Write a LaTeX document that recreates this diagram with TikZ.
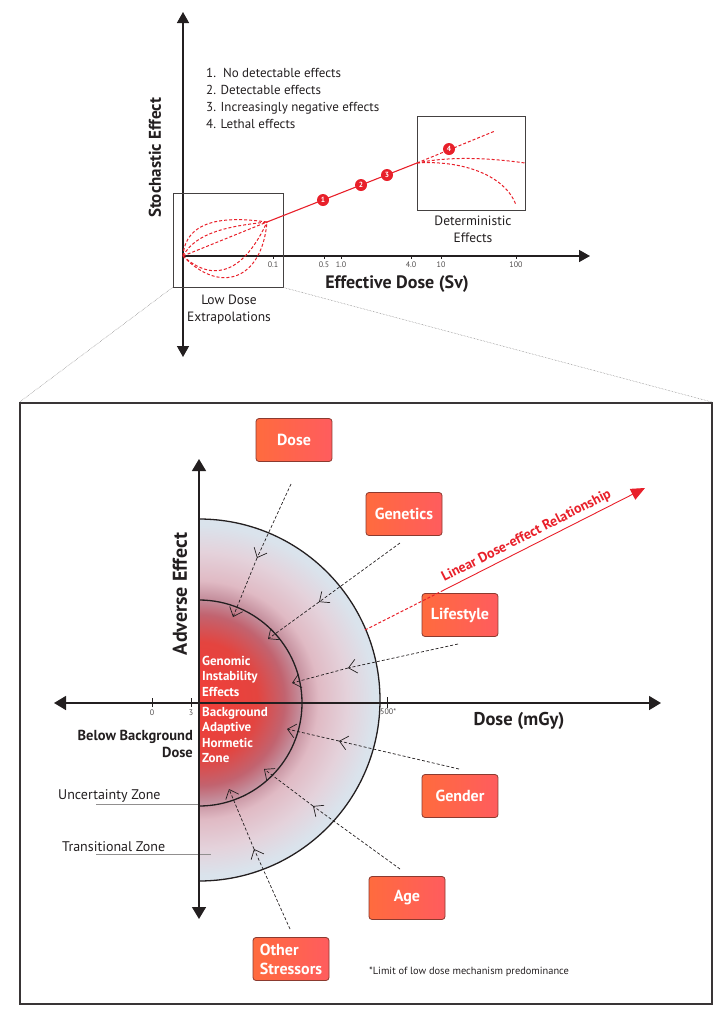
\documentclass[tikz,border=0pt]{standalone}
\usepackage{fontspec}
\setmainfont{PT Sans}
\usetikzlibrary{arrows.meta}
\definecolor{ink}{HTML}{231F20}
\definecolor{redc}{HTML}{E8202A}
\definecolor{boxL}{HTML}{FF6B3E}
\definecolor{boxR}{HTML}{FF5C5E}
\definecolor{boxB}{HTML}{8B3A2F}
\definecolor{zr0}{HTML}{F23E38}
\definecolor{zr1}{HTML}{E4443F}
\definecolor{zr2}{HTML}{C2636F}
\definecolor{zr3}{HTML}{C48E9C}
\definecolor{zr4}{HTML}{E0BAC4}
\definecolor{zr5}{HTML}{E4D2DB}
\definecolor{zr6}{HTML}{DAE3EC}
\pgfdeclareradialshading{zones}{\pgfpoint{0bp}{0bp}}{color(0bp)=(zr0); color(8bp)=(zr1); color(11.8bp)=(zr2); color(14bp)=(zr3); color(16.5bp)=(zr4); color(20.5bp)=(zr5); color(24.2bp)=(zr6); color(50bp)=(zr6)}
\begin{document}
\begin{tikzpicture}[x=1bp,y=-1bp,
  every node/.style={text=ink},
  axisline/.style={line width=1.5bp, draw=ink},
  tip/.style={-{Triangle[length=11bp,width=12bp]}},
  bitip/.style={{Triangle[length=11bp,width=12bp]}-{Triangle[length=11bp,width=12bp]}},
  frame/.style={draw=ink!85, line width=1bp, minimum width=#1, inner sep=0pt},
  reddash/.style={draw=redc, line width=1bp, dash pattern=on 3bp off 2bp},
  redsolid/.style={draw=redc, line width=1.1bp},
  num/.style={circle, fill=redc, text=white, inner sep=0pt, minimum size=12bp, font=\bfseries\fontsize{7.5bp}{8bp}\selectfont},
  tick/.style={draw=ink, line width=0.6bp},
  ticklbl/.style={font=\fontsize{8bp}{9bp}\selectfont, text=ink!80},
  factor/.style={draw=boxB, line width=0.8bp, rounded corners=3bp, left color=boxL, right color=boxR, text=white, font=\bfseries\fontsize{16bp}{18bp}\selectfont, minimum width=76bp, minimum height=43bp, inner sep=0pt, align=center},
  factorarr/.style={draw=ink, line width=0.7bp, dash pattern=on 3bp off 2bp, -{Straight Barb[length=8bp,width=14bp,line width=0.7bp]}},
  ring/.style={draw=ink, line width=1.3bp},
  zonetxt/.style={text=white, font=\bfseries\fontsize{13bp}{15.3bp}\selectfont, align=left, inner sep=0pt},
  guide/.style={draw=ink!50, line width=0.6bp}
]
\useasboundingbox (0,0) rectangle (724,1018);

% ================= TOP GRAPH =================
\coordinate (tO) at (183,256);
\coordinate (tP) at (267,222);
\coordinate (tD) at (417,163);
\coordinate (tE) at (495,131);
\draw[axisline,bitip] (183,357) -- (183,12);
\draw[axisline,tip] (tO) -- (590,256);
\node[rotate=90, font=\bfseries\fontsize{17bp}{19bp}\selectfont] (stoch) at (155,158) {Stochastic Effect};
\node[anchor=north west, align=left, inner sep=0pt, font=\fontsize{13bp}{17bp}\selectfont] (list) at (206,68)
  {1.\ \ No detectable effects\\2. Detectable effects\\3. Increasingly negative effects\\4. Lethal effects};

\node[frame=110bp, minimum height=94bp] (ldbox) at (228,240) {};
\node[frame=108bp, minimum height=94bp] (detbox) at (471,163) {};
\node[align=center, font=\fontsize{13.5bp}{17bp}\selectfont] (ldlbl) at (229,310) {Low Dose\\Extrapolations};
\node[align=center, font=\fontsize{13.5bp}{17bp}\selectfont] (detlbl) at (473,229) {Deterministic\\Effects};
\node[font=\bfseries\fontsize{18bp}{20bp}\selectfont] (effdose) at (397,284) {Effective Dose (Sv)};

% ticks
\foreach \xx/\lab in {273/0.1, 324/0.5, 341/1.0, 411/4.0, 441/10, 516/100}{
  \draw[tick] (\xx,256) -- (\xx,259);
  \node[ticklbl] at (\xx,265) {\lab};
}

% low dose curves
\draw[reddash] (tO) .. controls (186,214) and (238,218) .. (tP);
\draw[reddash] (tO) .. controls (196,232) and (230,226) .. (tP);
\draw[reddash] (tO) -- (tP);
\draw[reddash] (tO) .. controls (215,285) and (245,270) .. (tP);
\draw[reddash] (tO) .. controls (220,295) and (262,280) .. (tP);
% linear line
\draw[redsolid] (tP) -- (tD);
\draw[reddash] (tD) -- (tE);
\draw[reddash] (tD) .. controls (450,156) and (490,158) .. (525,163);
\draw[reddash] (tD) .. controls (462,160) and (505,175) .. (516,205);
\node[num] (m1) at (323,200) {1};
\node[num] (m2) at (361,185) {2};
\node[num] (m3) at (387,175) {3};
\node[num] (m4) at (449,149) {4};

% ================= BIG BOX =================
\node[draw=ink!90, line width=1.5bp, minimum width=692bp, minimum height=601bp, inner sep=0pt] (big) at (366,703.5) {};
\draw[densely dotted, draw=ink!60, line width=0.5bp] (ldbox.south west) -- (big.north west);
\draw[densely dotted, draw=ink!60, line width=0.5bp] (ldbox.south east) -- (big.north east);

% shaded zones
\begin{scope}
  \clip (199,519) arc[start angle=-90, end angle=90, radius=181] -- cycle;
  \shade[shading=zones] (199,700) circle (181);
\end{scope}
\draw[ring] (199,519) arc[start angle=-90, end angle=90, radius=181];
\draw[ring] (199,600) arc[start angle=-90, end angle=90, radius=103];

% guide lines
\draw[guide] (96,804) -- (199,804);
\draw[guide] (96,854) -- (211,854);
\node[anchor=west, inner sep=0pt, font=\fontsize{14bp}{16bp}\selectfont] (unc) at (58,796) {Uncertainty Zone};
\node[anchor=west, inner sep=0pt, font=\fontsize{14bp}{16bp}\selectfont] (trans) at (62,847) {Transitional Zone};

% axes
\draw[axisline,{Triangle[length=12bp,width=14bp]}-{Triangle[length=12bp,width=14bp]}] (54,703) -- (661,703);
\draw[axisline,{Triangle[length=12bp,width=14bp]}-{Triangle[length=12bp,width=14bp]}] (199,919) -- (199,459);
\draw[tick] (152,698) -- (152,707);
\draw[tick] (191,698) -- (191,707);
\draw[tick] (387,697) -- (387,708);
\node[ticklbl] at (152,713) {0};
\node[ticklbl] at (191,713) {3};
\node[ticklbl, anchor=west, inner sep=0pt] at (380,712) {500*};

\node[rotate=90, font=\bfseries\fontsize{20bp}{22bp}\selectfont] (adv) at (180,594) {Adverse Effect};
\node[font=\bfseries\fontsize{18.5bp}{20bp}\selectfont] (dosemgy) at (519,721) {Dose (mGy)};
\node[anchor=north east, align=right, inner sep=0pt, font=\bfseries\fontsize{14.5bp}{17bp}\selectfont] (below) at (193,730) {Below Background\\Dose};
\node[zonetxt, anchor=north west] (genomic) at (202,656) {Genomic\\Instability\\Effects};
\node[zonetxt, anchor=north west] (backgr) at (202,707) {Background\\Adaptive\\Hormetic\\Zone};

% factor boxes
\node[factor] (fdose) at (294,440) {Dose};
\node[factor] (fgen) at (404,514) {Genetics};
\node[factor] (flife) at (460,615) {Lifestyle};
\node[factor] (fgender) at (460,796) {Gender};
\node[factor] (fage) at (407,898) {Age};
\node[factor, align=left, font=\bfseries\fontsize{16bp}{19bp}\selectfont] (fother) at (291,959) {Other\\Stressors};

% factor arrows
\foreach \nm/\sx/\sy/\mx/\my/\ex/\ey in {
  d/291/484/257/558/233/617,
  g/400/543/319/602/268/639,
  l/458/644/348/668/292/683,
  s/459/769/339/741/287/729,
  a/400/869/313/806/264/769,
  o/290/929/254/849/229/789}{
  \coordinate (\nm s) at (\sx,\sy);
  \coordinate (\nm m) at (\mx,\my);
  \coordinate (\nm e) at (\ex,\ey);
  \draw[factorarr] (\nm s) -- (\nm m);
  \draw[factorarr] (\nm m) -- (\nm e);
}

% linear dose-effect relationship
\coordinate (lin0) at (365,630);
\coordinate (lin1) at (442,591);
\coordinate (lin2) at (645,488);
\draw[reddash] (lin0) -- (lin1);
\draw[draw=redc, line width=0.9bp, -{Triangle[length=14bp,width=12bp]}] (lin1) -- node[sloped, above=0.5bp, pos=0.44, text=redc, font=\bfseries\fontsize{14bp}{16bp}\selectfont] (linlbl) {Linear Dose-effect Relationship} (lin2);

\node[anchor=west, inner sep=0pt, font=\fontsize{10.4bp}{12bp}\selectfont] (note) at (369,972) {*Limit of low dose mechanism predominance};
\end{tikzpicture}
\end{document}
